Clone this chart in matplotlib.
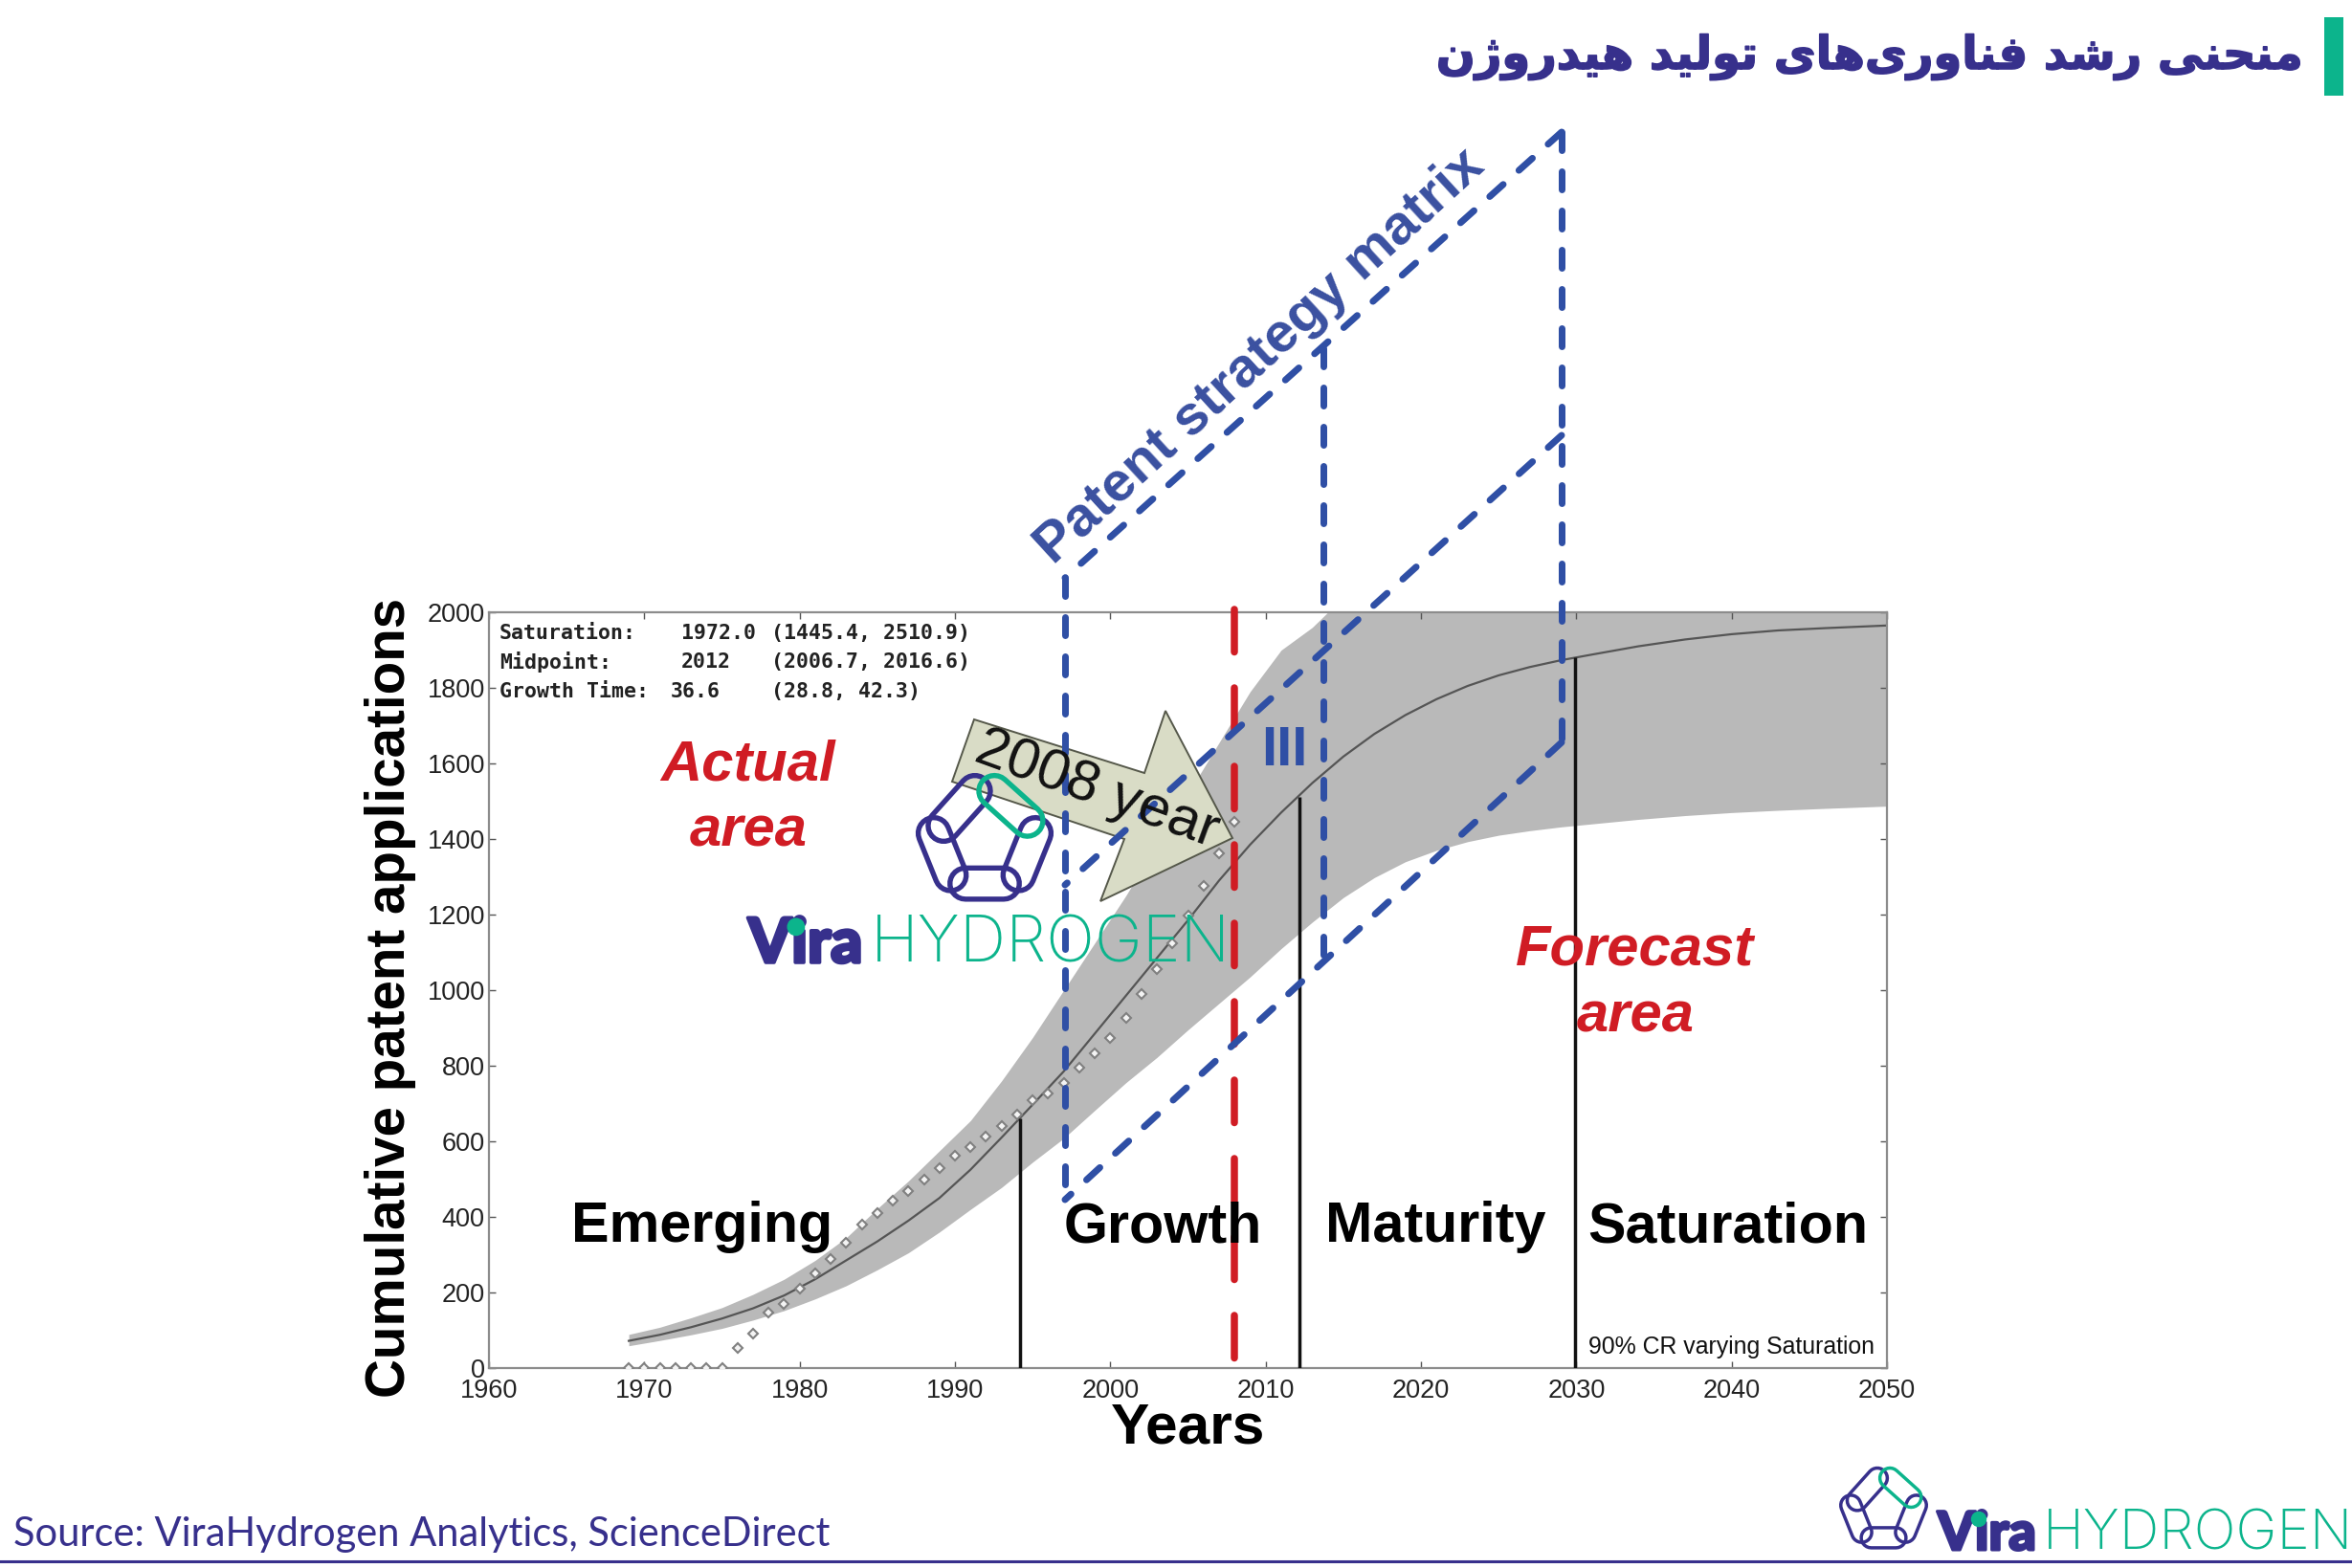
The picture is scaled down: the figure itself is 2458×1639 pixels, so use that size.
#!/usr/bin/env python3
"""Technology growth curve for hydrogen production patents, with the strategy matrix on top."""

import numpy as np
import matplotlib
matplotlib.use("Agg")
import matplotlib.pyplot as plt
import matplotlib.patheffects as pe
from matplotlib.patches import Polygon, Rectangle, Circle

INDIGO = "#37308C"
GREEN = "#0CB48C"
BLUE = "#2F4FA5"
RED = "#D01C24"
SANS = "Liberation Sans"

TITLE = "منحنی رشد فناوری‌های تولید هیدروژن"
SOURCE = "Source: ViraHydrogen Analytics, ScienceDirect"

fit_years = [1969, 1971, 1973, 1975, 1977, 1979, 1981, 1983, 1985, 1987, 1989, 1991, 1993, 1995, 1997, 1999,
             2001, 2003, 2005, 2007, 2009, 2011, 2013, 2015, 2017, 2019, 2021, 2023, 2025, 2027, 2029, 2031,
             2034, 2037, 2040, 2043, 2046, 2050]
fit_mid = [72, 88, 108, 131, 158, 192, 235, 285, 335, 390, 450, 525, 610, 697, 785, 885,
           985, 1085, 1185, 1290, 1385, 1470, 1548, 1618, 1678, 1728, 1770, 1805, 1833, 1855, 1873, 1888,
           1910, 1928, 1942, 1952, 1958, 1965]
# the band runs off the top of the axis after about 2014
fit_upper = [89, 108, 133, 160, 195, 235, 285, 345, 422, 495, 575, 655, 760, 875, 1000, 1125,
             1250, 1385, 1520, 1655, 1790, 1900, 1960, 2040, 2100, 2100, 2100, 2100, 2100, 2100, 2100, 2100,
             2100, 2100, 2100, 2100, 2100, 2100]
fit_lower = [59, 73, 88, 105, 127, 152, 183, 218, 260, 305, 360, 420, 478, 545, 608, 682,
             755, 822, 895, 965, 1035, 1110, 1180, 1245, 1298, 1340, 1370, 1393, 1410, 1422, 1432, 1440,
             1452, 1462, 1470, 1476, 1481, 1487]

obs_years = list(range(1969, 2009))
obs_counts = [0, 0, 0, 0, 0, 0, 0, 53, 91, 146, 169, 211, 251, 289, 332, 380, 411, 443, 468, 499,
              529, 561, 584, 613, 641, 671, 709, 727, 754, 796, 833, 873, 926, 989, 1056, 1124,
              1198, 1276, 1363, 1446]

phase_years = [1994.2, 2012.2, 2029.9]
phase_tops = [660, 1511, 1880]
now_year = 2008

x_ticks = list(range(1960, 2051, 10))
y_ticks = list(range(0, 2001, 200))
phase_names = ["Emerging", "Growth", "Maturity", "Saturation"]
stats_rows = [("Saturation:", "1972.0", "(1445.4, 2510.9)"),
              ("Midpoint:", "2012", "(2006.7, 2016.6)"),
              ("Growth Time:", "36.6", "(28.8, 42.3)")]

# isolated, final, initial, medial
FORMS = {
    "م": "\uFEE1\uFEE2\uFEE3\uFEE4", "ن": "\uFEE5\uFEE6\uFEE7\uFEE8",
    "ح": "\uFEA1\uFEA2\uFEA3\uFEA4", "ی": "\uFBFC\uFBFD\uFBFE\uFBFF",
    "ش": "\uFEB5\uFEB6\uFEB7\uFEB8", "ف": "\uFED1\uFED2\uFED3\uFED4",
    "ه": "\uFEE9\uFEEA\uFEEB\uFEEC", "ت": "\uFE95\uFE96\uFE97\uFE98",
    "ل": "\uFEDD\uFEDE\uFEDF\uFEE0", "ر": "\uFEAD\uFEAE", "د": "\uFEA9\uFEAA",
    "ا": "\uFE8D\uFE8E", "و": "\uFEED\uFEEE", "ژ": "\uFB8A\uFB8B",
}


def shape_rtl(text):
    """matplotlib has no Arabic shaping, so pick the joined forms and reverse the order."""
    out = []
    for i, ch in enumerate(text):
        if ch not in FORMS:
            if ch != "\u200c":
                out.append(ch)
            continue
        prev = text[i - 1] if i else " "
        nxt = text[i + 1] if i + 1 < len(text) else " "
        joins_prev = prev in FORMS and len(FORMS[prev]) == 4
        joins_next = nxt in FORMS and len(FORMS[ch]) == 4
        idx = {(False, False): 0, (True, False): 1, (False, True): 2, (True, True): 3}[(joins_prev, joins_next)]
        out.append(FORMS[ch][idx])
    return "".join(reversed(out))


def stadium(p, q, r, n=14):
    p, q = np.array(p, float), np.array(q, float)
    a = np.arctan2(*(q - p)[::-1])
    t1 = np.linspace(a - np.pi / 2, a + np.pi / 2, n)
    t2 = t1 + np.pi
    pts = [q + r * np.c_[np.cos(t1), np.sin(t1)], p + r * np.c_[np.cos(t2), np.sin(t2)]]
    return np.vstack(pts)


def draw_logo_icon(ax, cx, cy, s):
    links = [((-34.3, -3.3), (-22.9, 25), INDIGO), ((34.3, -3.3), (22.9, 25), INDIGO),
             ((-12.9, 30.7), (12.9, 30.7), INDIGO), ((-6.6, -31.7), (-27.6, -8.3), INDIGO),
             ((6.6, -31.7), (28.8, -11.7), GREEN)]
    for p, q, col in links:
        pts = stadium(p, q, 10.5) * s + (cx, cy)
        ax.add_patch(Polygon(pts, closed=True, fill=False, ec=col, lw=2.5 * s, zorder=20))


def draw_logo_word(ax, x, base, s):
    ax.text(x, base, "Vira", family="Lato", weight="black", fontsize=40 * s, color=INDIGO,
            ha="left", va="baseline", zorder=20,
            path_effects=[pe.withStroke(linewidth=2.2 * s, foreground=INDIGO)])
    ax.add_patch(Circle((x + 43 * s, base - 32 * s), 7.5 * s, color=GREEN, zorder=21))
    ax.text(x + 110 * s, base, "HYDROGEN", family="Inter", weight="light", fontsize=41.8 * s, color=GREEN,
            ha="left", va="baseline", zorder=20)


def dashed(ax, xs, ys, color, lw_px, dash_px, gap_px, z=8):
    # round caps add one line width to each visible dash
    lw = lw_px * 0.72
    line, = ax.plot(xs, ys, color=color, lw=lw, zorder=z, dash_capstyle="round")
    line.set_dashes(((dash_px - lw_px) / lw_px, (gap_px + lw_px) / lw_px))
    return line


def main():
    fig = plt.figure(figsize=(24.58, 16.39), dpi=100, facecolor="white")
    W, H = 2458, 1639

    # === Chart ===
    ax = fig.add_axes([511 / W, 1 - 1430 / H, 1461 / W, 790 / H])
    ax.fill_between(fit_years, fit_lower, fit_upper, color="#B9B9B9", lw=0, zorder=1)
    ax.plot(fit_years, fit_mid, color="#555555", lw=1.6, zorder=2)
    ax.plot(obs_years, obs_counts, ls="none", marker="D", ms=5.2, mfc="#F4F4F4", mec="#808080", mew=1.5, zorder=3)
    ax.vlines(phase_years, 0, phase_tops, color="#111111", lw=2.5, zorder=4)
    ax.set_xlim(1960, 2050)
    ax.set_ylim(0, 2000)
    ax.set_xticks(x_ticks)
    ax.set_yticks(y_ticks)
    ax.tick_params(direction="in", top=True, right=True, length=5, width=1, color="#555555", pad=8, labelsize=19.5)
    ax.tick_params(axis="y", pad=3)
    for lab in ax.get_xticklabels() + ax.get_yticklabels():
        lab.set_family(SANS)
        lab.set_color("#222222")
    for sp in ax.spines.values():
        sp.set_color("#8C8C8C")
        sp.set_linewidth(1.6)
    ax.set_xlabel("Years", family=SANS, weight="bold", fontsize=43.5, color="black", labelpad=-1)
    ax.set_ylabel("Cumulative patent applications", family=SANS, weight="bold", fontsize=40.7, color="black",
                  labelpad=8, y=0.49)

    # === Overlay in pixels ===
    ov = fig.add_axes([0, 0, 1, 1], zorder=5)
    ov.set_xlim(0, W)
    ov.set_ylim(H, 0)
    ov.axis("off")

    ov.add_patch(Polygon([(1018, 752), (1196, 808), (1218, 743), (1288, 876), (1150, 942), (1175, 877), (995, 817)],
                         closed=True, fc="#D9DCC6", ec="#55584A", lw=1.4, zorder=5))
    ov.text(1146, 826, "2008 year", family=SANS, fontsize=43, color="#111111", rotation=-20,
            rotation_mode="anchor", ha="center", va="center", zorder=9)

    # strategy matrix
    left, mid, right = 1113, 1383, 1632
    dashed(ov, [left, left], [604, 1254], BLUE, 7, 26, 15)
    dashed(ov, [mid, mid], [364, 1011], BLUE, 7, 26, 15)
    dashed(ov, [right, right], [138, 776], BLUE, 7, 26, 15)
    dashed(ov, [right, left], [138, 604], BLUE, 7, 26, 15)
    dashed(ov, [right, left], [455, 925], BLUE, 7, 26, 15)
    dashed(ov, [right, left], [776, 1254], BLUE, 7, 26, 15)
    x_now = 511 + (now_year - 1960) * 1461 / 90
    dashed(ov, [x_now, x_now], [637, 1430], RED, 7.5, 52, 30, z=7)

    ov.text(1317, 373, "Patent strategy matrix", family=SANS, weight="bold", fontsize=42, color="#3A50A0",
            rotation=42.5, rotation_mode="anchor", ha="center", va="center", zorder=9)
    ov.text(1342, 785, "III", family=SANS, weight="bold", fontsize=42, color=BLUE, ha="center", va="center", zorder=9)

    for txt, y in (("Actual", 800), ("area", 869)):
        ov.text(782, y, txt, family=SANS, weight="bold", style="italic", fontsize=43, color=RED,
                ha="center", va="center", zorder=9)
    for txt, y in (("Forecast", 993), ("area", 1063)):
        ov.text(1709, y, txt, family=SANS, weight="bold", style="italic", fontsize=43, color=RED,
                ha="center", va="center", zorder=9)
    for txt, x in zip(phase_names, (734, 1215, 1500, 1806)):
        ov.text(x, 1283, txt, family=SANS, weight="bold", fontsize=42.7, color="black",
                ha="center", va="center", zorder=9)
    ov.text(1660, 1408, "90% CR varying Saturation", family=SANS, fontsize=17.9, color="#111111",
            ha="left", va="center", zorder=9)

    for (name, val, ci), y, val_x in zip(stats_rows, (662, 692, 723), (712, 712, 701)):
        ov.text(522, y, name, family="DejaVu Sans Mono", weight="bold", fontsize=15.5, color="#222222", va="center")
        ov.text(val_x, y, val, family="DejaVu Sans Mono", weight="bold", fontsize=15.5, color="#222222", va="center")
        ov.text(806, y, ci, family="DejaVu Sans Mono", weight="bold", fontsize=15.5, color="#222222", va="center")

    # === Page furniture ===
    ov.add_patch(Rectangle((2429, 18), 20, 82, color=GREEN, lw=0))
    ov.text(2406, 60, shape_rtl(TITLE), family="DejaVu Sans", weight="bold", fontsize=34.5, color=INDIGO,
            ha="right", va="center", path_effects=[pe.withStroke(linewidth=1.2, foreground=INDIGO)])
    ov.text(14, 1616, SOURCE, family="Lato", fontsize=30, color=INDIGO, ha="left", va="baseline")
    ov.plot([0, W], [1632, 1632], color=INDIGO, lw=2.2, zorder=6)

    draw_logo_icon(ov, 1968.5, 1576.7, 1.0)
    draw_logo_word(ov, 2025, 1620, 1.0)
    draw_logo_icon(ov, 1029, 876, 1.55)
    draw_logo_word(ov, 782, 1006, 1.16)

    fig.savefig("out.png", dpi=100, facecolor="white")
    plt.close(fig)


if __name__ == "__main__":
    main()
